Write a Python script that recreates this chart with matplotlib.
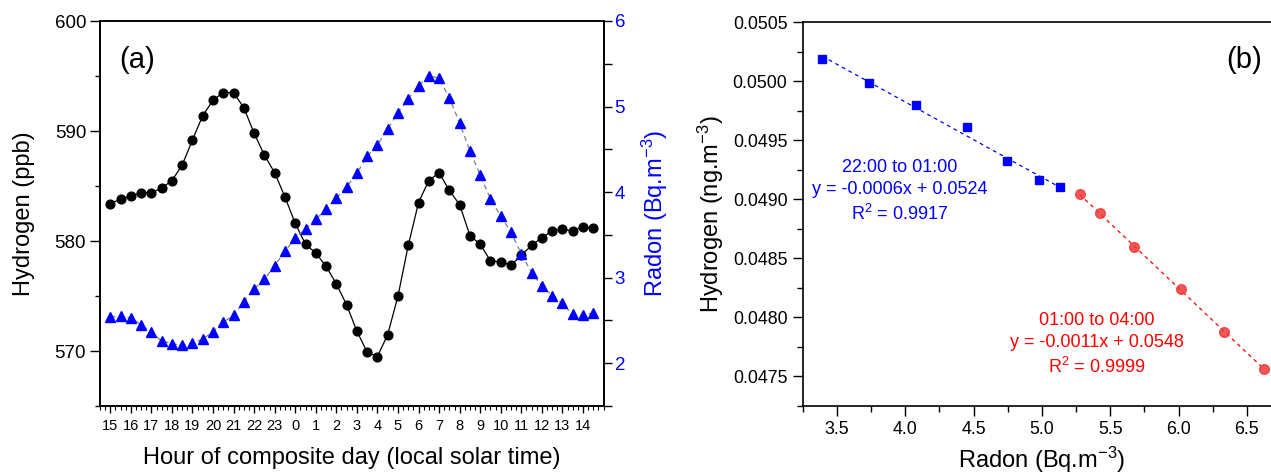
import numpy as np
import matplotlib
matplotlib.use("Agg")
import matplotlib.pyplot as plt
from matplotlib.ticker import MultipleLocator, FormatStrFormatter, FixedLocator

plt.rcParams['font.family'] = ['Liberation Sans', 'DejaVu Sans']
plt.rcParams['mathtext.default'] = 'regular'

# ---- (a) composite diurnal cycle, half-hourly from 15:00 ----
hour_labels = ['15', '16', '17', '18', '19', '20', '21', '22', '23', '0', '1', '2',
               '3', '4', '5', '6', '7', '8', '9', '10', '11', '12', '13', '14']
hydrogen_ppb = [583.4, 583.8, 584.1, 584.4, 584.4, 584.8, 585.5, 586.9, 589.2, 591.4,
                592.8, 593.5, 593.5, 592.1, 589.8, 587.8, 586.2, 584.0, 581.6, 579.7,
                578.9, 577.7, 576.1, 574.2, 571.8, 569.9, 569.5, 571.5, 575.0, 579.6,
                583.5, 585.5, 586.2, 584.6, 583.3, 580.5, 579.7, 578.2, 578.1, 577.8,
                578.7, 579.6, 580.3, 580.9, 581.1, 580.9, 581.3, 581.2]
radon_bq = [2.54, 2.55, 2.53, 2.45, 2.36, 2.26, 2.23, 2.21, 2.24, 2.28, 2.37, 2.48,
            2.56, 2.72, 2.87, 2.98, 3.14, 3.31, 3.46, 3.57, 3.68, 3.80, 3.93, 4.06,
            4.22, 4.42, 4.55, 4.74, 4.93, 5.09, 5.24, 5.36, 5.33, 5.10, 4.81, 4.48,
            4.20, 3.92, 3.72, 3.53, 3.28, 3.06, 2.90, 2.79, 2.70, 2.57, 2.56, 2.59]

# ---- (b) hydrogen vs radon for two night-time windows ----
radon_evening = [3.393, 3.737, 4.081, 4.450, 4.747, 4.981, 5.130]
hydrogen_evening = [0.050186, 0.049983, 0.049797, 0.049610, 0.049325, 0.049161, 0.049102]
radon_night = [5.276, 5.423, 5.676, 6.020, 6.330, 6.627]
hydrogen_night = [0.049042, 0.048881, 0.048598, 0.048237, 0.047875, 0.047562]

W, H = 1271, 473
fig = plt.figure(figsize=(W / 100, H / 100), dpi=100)

# ================= panel (a) =================
ax = fig.add_axes([100 / W, 1 - 406 / H, 503.5 / W, 385 / H])
t = np.arange(len(hydrogen_ppb)) * 0.5
ax.plot(t, hydrogen_ppb, color='black', lw=0.9, marker='o', ms=6.3,
        mfc='black', mec='black', zorder=3)
ax.set_xlim(-0.5, 24.0)
ax.set_ylim(565, 600)
ax.yaxis.set_major_locator(MultipleLocator(10))
ax.yaxis.set_minor_locator(MultipleLocator(5))
ax.xaxis.set_major_locator(FixedLocator(np.arange(len(hour_labels))))
ax.set_xticklabels(hour_labels)
ax.xaxis.set_minor_locator(MultipleLocator(0.25))
ax.tick_params(axis='x', which='major', direction='out', length=5, width=1,
               labelsize=10.5, pad=4)
ax.tick_params(axis='x', which='minor', direction='out', length=3, width=0.8)
ax.tick_params(axis='y', which='major', direction='out', length=7, width=1,
               labelsize=13.5, pad=3)
ax.tick_params(axis='y', which='minor', direction='out', length=3.5, width=1)
for s in ax.spines.values():
    s.set_linewidth(1.2)
ax.set_ylabel('Hydrogen (ppb)', fontsize=17)
ax.yaxis.set_label_coords((23.6 - 100) / 503.5, 0.5)
ax.yaxis.label.set_va('center')
ax.set_xlabel('Hour of composite day (local solar time)', fontsize=17)
ax.xaxis.set_label_coords(0.5, (406 - 458) / 385)
ax.xaxis.label.set_va('center')
ax.text((136.7 - 100) / 503.5, 1 - (60 - 21) / 385, '(a)', transform=ax.transAxes,
        fontsize=21, ha='center', va='center')

ax2 = ax.twinx()
ax2.plot(t, radon_bq, color='#7f7f7f', lw=0.9, dashes=(4, 3), marker='^', ms=7.6,
         mfc='blue', mec='blue', zorder=3)
ax2.set_ylim(1.5, 6)
ax2.yaxis.set_major_locator(MultipleLocator(1))
ax2.yaxis.set_minor_locator(MultipleLocator(0.5))
ax2.tick_params(axis='y', which='major', direction='out', length=6, width=1,
                labelsize=13.5, labelcolor='blue', pad=2)
ax2.tick_params(axis='y', which='minor', direction='out', length=6, width=1)
for s in ax2.spines.values():
    s.set_linewidth(1.2)
ax2.set_ylabel('Radon (Bq.m$^{-3}$)', fontsize=17, color='blue')
ax2.yaxis.set_label_coords((655 - 100) / 503.5, 0.5)
ax2.yaxis.label.set_va('center')

# ================= panel (b) =================
bx = fig.add_axes([802.7 / W, 1 - 405.7 / H, 478.3 / W, 383.4 / H])
bx.plot(radon_evening, hydrogen_evening, ls='none', marker='s', ms=6,
        mfc='blue', mec='blue', zorder=3)
bx.plot(radon_night, hydrogen_night, ls='none', marker='o', ms=7,
        mfc='#f03a3a', mec='#f03a3a', alpha=0.85, zorder=3)

# least-squares fit lines over each window
for xs, ys, col in ((radon_evening, hydrogen_evening, 'blue'),
                    (radon_night, hydrogen_night, 'red')):
    k, c = np.polyfit(xs, ys, 1)
    xx = np.array([min(xs), max(xs)])
    bx.plot(xx, k * xx + c, color=col, lw=0.9, dashes=(3, 3), zorder=2)

bx.set_xlim(3.25, 6.75)
bx.set_ylim(0.04725, 0.0505)
bx.xaxis.set_major_locator(MultipleLocator(0.5))
bx.xaxis.set_minor_locator(MultipleLocator(0.25))
bx.yaxis.set_major_locator(MultipleLocator(0.0005))
bx.yaxis.set_minor_locator(MultipleLocator(0.00025))
bx.xaxis.set_major_formatter(FormatStrFormatter('%.1f'))
bx.yaxis.set_major_formatter(FormatStrFormatter('%.4f'))
bx.tick_params(which='major', direction='out', length=7.5, width=1,
               labelsize=12.8, pad=3.5)
bx.tick_params(which='minor', direction='out', length=4.3, width=1)
for s in bx.spines.values():
    s.set_linewidth(1.2)
bx.set_ylabel('Hydrogen (ng.m$^{-3}$)', fontsize=17)
bx.yaxis.set_label_coords((711 - 802.7) / 478.3, 0.5)
bx.yaxis.label.set_va('center')
bx.set_xlabel('Radon (Bq.m$^{-3}$)', fontsize=17)
bx.xaxis.set_label_coords(0.5, (405.7 - 460) / 383.4)
bx.xaxis.label.set_va('center')

ev_x = 3.25 + (900 - 802.7) / 136.7
bx.text(ev_x, 0.0505 - (191.5 - 22.3) / 118000,
        '22:00 to 01:00\ny = -0.0006x + 0.0524\nR$^{2}$ = 0.9917',
        fontsize=13, color='blue', ha='center', va='center', linespacing=1.4)
nt_x = 3.25 + (1096.7 - 802.7) / 136.7
bx.text(nt_x, 0.0505 - (344.5 - 22.3) / 118000,
        '01:00 to 04:00\ny = -0.0011x + 0.0548\nR$^{2}$ = 0.9999',
        fontsize=13, color='red', ha='center', va='center', linespacing=1.4)
bx.text(3.25 + (1243.8 - 802.7) / 136.7, 0.0505 - (60 - 22.3) / 118000, '(b)',
        fontsize=21, ha='center', va='center')

fig.savefig('out.png', dpi=100)
